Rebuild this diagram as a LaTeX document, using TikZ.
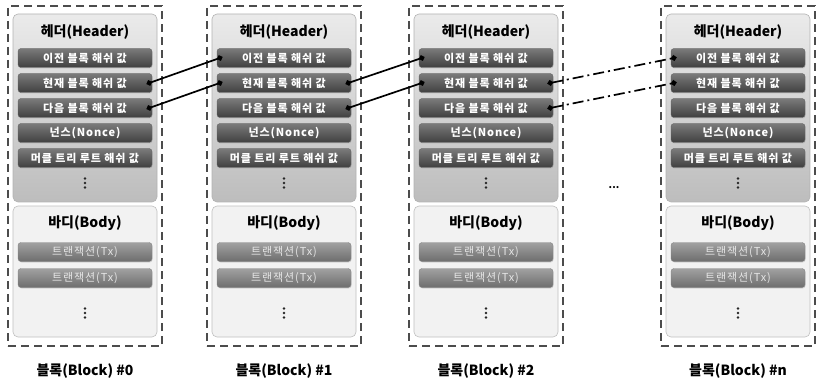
\documentclass[tikz,border=0pt]{standalone}
\usepackage{fontspec}
\newfontfamily\kr{Noto Sans CJK KR}
\newfontfamily\krsp{Noto Sans CJK KR}[LetterSpace=8]
\usetikzlibrary{arrows.meta,shadows}
\begin{document}
\begin{tikzpicture}[x=1pt,y=-1pt, font=\kr,
 outer/.style={draw=black!70, line width=1.5pt, dash pattern=on 8pt off 5pt, minimum width=154pt, minimum height=340pt, inner sep=0pt},
 hdrbox/.style={draw=black!30, rounded corners=5pt, top color=black!8, bottom color=black!26, line width=0.6pt, minimum width=144pt, minimum height=188pt, inner sep=0pt},
 bodybox/.style={draw=black!25, rounded corners=5pt, fill=black!5, line width=0.6pt, minimum width=144pt, minimum height=131pt, inner sep=0pt},
 rowbox/.style={rounded corners=3pt, top color=black!52, bottom color=black!75, draw=black!60, minimum width=134pt, minimum height=19pt, inner sep=0pt, text=white, font=\krsp\bfseries\fontsize{11}{12}\selectfont, drop shadow={opacity=0.25, shadow xshift=0.6pt, shadow yshift=-1pt}},
 txrow/.style={rowbox, top color=black!37, bottom color=black!57, draw=black!48, text=black!10, font=\krsp\fontsize{11}{12}\selectfont},
 ttl/.style={font=\kr\bfseries\fontsize{14}{16}\selectfont},
 vd/.style={minimum width=6pt, minimum height=13pt, inner sep=0pt,
   path picture={\foreach \k in {-4.5,0,4.5}{\fill[black!85] ([yshift=\k pt]path picture bounding box.center) circle (1.4pt);}}},
 link/.style={line width=1.7pt, {Circle[length=5.5pt]}-{Circle[length=5.5pt]}, shorten <=-2.75pt, shorten >=-2.75pt},
 dashlink/.style={link, dash pattern=on 11pt off 4pt on 2pt off 4pt}
]
\useasboundingbox (0,0) rectangle (816,382);
\foreach \L/\i/\lab in {8/0/0,207/1/1,409/2/2,661/3/n}{
  \node[outer] (o\i) at (\L+77,176) {};
  \node[hdrbox] (h\i) at (\L+77,108) {};
  \node[ttl] (ht\i) at (\L+77,32) {헤더(Header)};
  \node[rowbox] (r\i-1) at (\L+77,58) {이전 블록 해쉬 값};
  \node[rowbox] (r\i-2) at (\L+77,83) {현재 블록 해쉬 값};
  \node[rowbox] (r\i-3) at (\L+77,108) {다음 블록 해쉬 값};
  \node[rowbox] (r\i-4) at (\L+77,133) {넌스(Nonce)};
  \node[rowbox] (r\i-5) at (\L+77,158) {머클 트리 루트 해쉬 값};
  \node[vd] (hd\i) at (\L+77,183) {};
  \node[bodybox] (bb\i) at (\L+77,271.5) {};
  \node[ttl] (bt\i) at (\L+77,223) {바디(Body)};
  \node[txrow] (t\i-1) at (\L+77,252) {트랜잭션(Tx)};
  \node[txrow] (t\i-2) at (\L+77,278) {트랜잭션(Tx)};
  \node[vd] (bd\i) at (\L+77,313) {};
  \node[ttl] (lb\i) at (\L+77,371) {블록(Block) \#\lab};
}
\node[font=\kr\bfseries\fontsize{10}{12}\selectfont] (ell) at (614,188) {...};
\draw[link] ([xshift=-3pt]r0-2.east) -- ([xshift=3pt]r1-1.west);
\draw[link] ([xshift=-3pt]r0-3.east) -- ([xshift=3pt]r1-2.west);
\draw[link] ([xshift=-3pt]r1-2.east) -- ([xshift=3pt]r2-1.west);
\draw[link] ([xshift=-3pt]r1-3.east) -- ([xshift=3pt]r2-2.west);
\draw[dashlink] ([xshift=-3pt]r2-2.east) -- ([xshift=3pt]r3-1.west);
\draw[dashlink] ([xshift=-3pt]r2-3.east) -- ([xshift=3pt]r3-2.west);
\end{tikzpicture}
\end{document}
